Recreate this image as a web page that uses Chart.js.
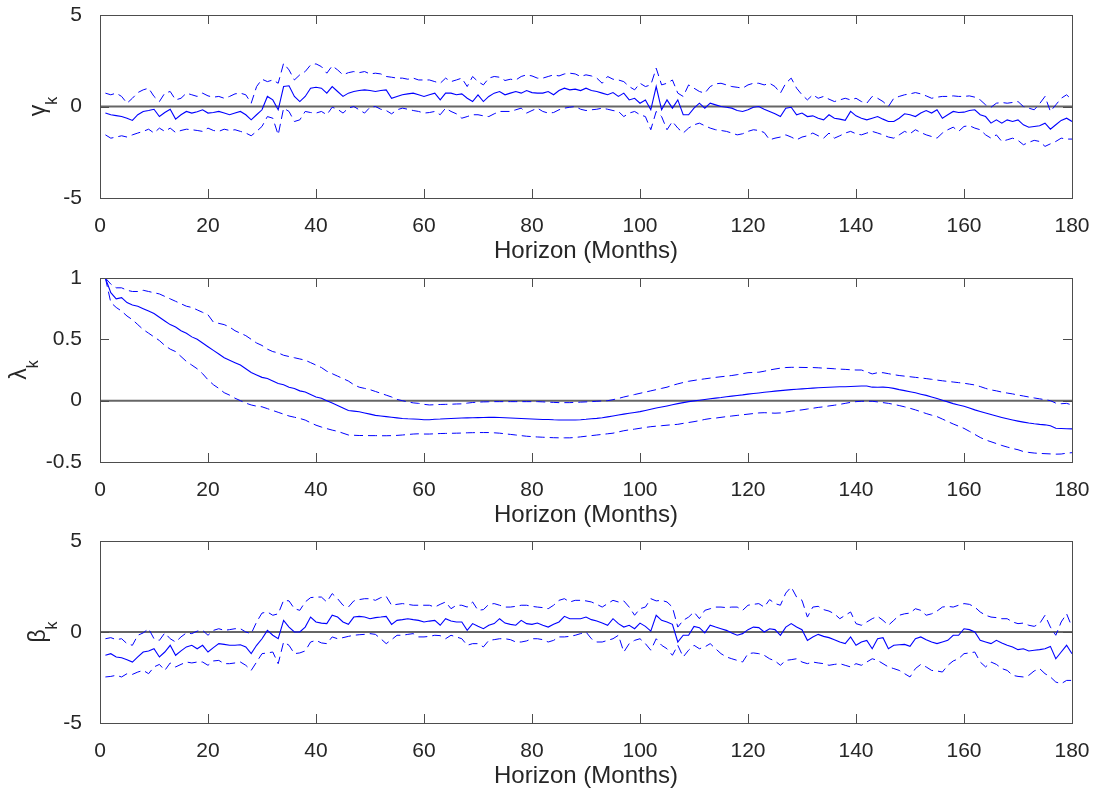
<!DOCTYPE html>
<html>
<head>
<meta charset="utf-8">
<title>Horizon coefficients</title>
<script src="https://cdn.jsdelivr.net/npm/chart.js@4.4.1/dist/chart.umd.min.js"></script>
<style>
  html, body { margin: 0; padding: 0; background: #ffffff; }
  #wrap { position: relative; width: 1099px; height: 798px; overflow: hidden; }
  #wrap canvas { position: absolute; left: 0; }
</style>
</head>
<body>
<div id="wrap">
  <canvas id="gammaChart" width="1099" height="281" style="top:-15px"></canvas>
  <canvas id="lambdaChart" width="1099" height="282" style="top:248px"></canvas>
  <canvas id="betaChart" width="1099" height="280" style="top:511px"></canvas>
</div>
<script>
// --- DATA (horizons 1..180 months) ---
const horizonCount = 180;
const horizons = Array.from({ length: horizonCount }, (_, i) => i + 1);

const gammaMid = [
  -0.36, -0.45, -0.5, -0.55, -0.64, -0.76, -0.45, -0.27, -0.22, -0.15,
  -0.55, -0.33, -0.15, -0.69, -0.45, -0.27, -0.36, -0.29, -0.18, -0.36,
  -0.33, -0.27, -0.36, -0.45, -0.36, -0.27, -0.45, -0.73, -0.45, -0.18,
  0.55, 0.36, -0.18, 1.09, 1.13, 0.55, 0.27, 0.55, 1.0, 1.05,
  1.0, 0.73, 1.09, 0.82, 0.55, 0.73, 0.82, 0.87, 0.91, 0.87,
  0.82, 0.87, 0.91, 0.45, 0.55, 0.64, 0.69, 0.73, 0.64, 0.55,
  0.64, 0.73, 0.36, 0.73, 0.73, 0.64, 0.69, 0.45, 0.27, 0.64,
  0.27, 0.55, 0.73, 0.82, 0.64, 0.73, 0.82, 0.73, 0.87, 0.76,
  0.73, 0.73, 0.82, 0.64, 0.87, 1.0, 0.91, 0.95, 0.87, 1.0,
  0.87, 0.82, 0.73, 0.64, 0.76, 0.55, 0.73, 0.36, 0.45, 0.18,
  0.36, -0.18, 1.09, -0.18, 0.36, -0.09, 0.36, -0.45, -0.45, -0.09,
  0.18, -0.09, 0.18, 0.09, 0, -0.04, -0.09, -0.22, -0.27, -0.18,
  -0.04, 0, -0.15, -0.27, -0.4, -0.55, -0.09, -0.04, -0.45, -0.36,
  -0.55, -0.51, -0.64, -0.73, -0.45, -0.64, -0.69, -0.76, -0.27, -0.51,
  -0.64, -0.73, -0.64, -0.55, -0.69, -0.82, -0.82, -0.64, -0.4, -0.45,
  -0.55, -0.36, -0.22, -0.36, -0.18, -0.64, -0.45, -0.27, -0.33, -0.31,
  -0.22, -0.18, -0.45, -0.55, -0.91, -0.73, -0.91, -0.73, -0.82, -0.73,
  -1.0, -1.13, -1.09, -1.05, -0.91, -1.24, -1.0, -0.76, -0.64, -0.82
];
const gammaUpper = [
  0.73, 0.64, 0.73, 0.55, 0.18, 0.45, 0.76, 0.91, 1.0, 0.55,
  0.27, 0.73, 0.82, 0.36, 0.45, 0.73, 0.64, 0.55, 0.73, 0.58,
  0.51, 0.55, 0.45, 0.55, 0.69, 0.73, 0.64, 0.18, 1.09, 1.49,
  1.36, 1.45, 1.27, 2.36, 2.0, 1.45, 1.73, 1.91, 2.27, 2.33,
  2.18, 1.82, 2.22, 2.0, 1.73, 1.85, 1.91, 1.85, 1.91, 1.78,
  1.82, 1.78, 1.64, 1.6, 1.55, 1.55, 1.49, 1.55, 1.45, 1.45,
  1.45, 1.36, 1.27, 1.55, 1.36, 1.45, 1.55, 1.09, 1.64, 1.36,
  1.18, 1.55, 1.64, 1.6, 1.42, 1.49, 1.45, 1.64, 1.73, 1.67,
  1.55, 1.55, 1.64, 1.73, 1.67, 1.78, 1.82, 1.78, 1.64, 1.73,
  1.67, 1.55, 1.27, 1.64, 1.49, 1.45, 1.36, 1.09, 0.91, 1.27,
  1.09, 1.18, 2.09, 1.18, 1.27, 1.45, 0.73, 0.55, 1.18, 1.0,
  0.82, 0.73, 1.09, 1.24, 1.27, 1.18, 1.09, 1.05, 1.0, 1.18,
  1.27, 1.27, 1.18, 1.27, 1.09, 0.73, 1.27, 1.55, 1.0, 0.64,
  0.36, 0.64, 0.45, 0.55, 0.4, 0.27, 0.36, 0.45, 0.36, 0.45,
  0.27, 0.18, 0.55, 0.45, 0.27, 0, 0.45, 0.55, 0.64, 0.69,
  0.76, 0.69, 0.58, 0.45, 0.51, 0.55, 0.55, 0.58, 0.55, 0.55,
  0.58, 0.51, 0.36, 0.09, -0.04, 0.18, 0.22, 0.18, 0.22, 0.27,
  0, -0.09, -0.18, 0.15, 0.55, -0.27, 0.09, 0.45, 0.64, 0.36
];
const gammaLower = [
  -1.55, -1.73, -1.67, -1.6, -1.67, -1.55, -1.45, -1.36, -1.24, -1.45,
  -1.18, -1.36, -1.18, -1.42, -1.31, -1.24, -1.27, -1.31, -1.36, -1.18,
  -1.31, -1.36, -1.24, -1.31, -1.27, -1.36, -1.45, -1.6, -1.36, -1.09,
  -0.55, -0.64, -1.55, -0.09, -0.27, -0.82, -0.73, -0.27, -0.33, -0.36,
  -0.27, -0.45, -0.04, -0.15, -0.36, -0.09, 0, -0.18, -0.36, -0.04,
  0, -0.15, -0.22, -0.4, -0.18, -0.09, -0.15, -0.22, -0.27, -0.36,
  -0.33, -0.27, -0.45, -0.09, -0.27, -0.4, -0.64, -0.55, -0.45, -0.45,
  -0.51, -0.55, -0.4, -0.27, -0.27, -0.27, -0.18, -0.09, -0.36, -0.22,
  -0.09, -0.27, -0.36, -0.33, -0.18, -0.09, -0.04, 0, -0.15, -0.22,
  -0.18, -0.15, -0.09, -0.15, -0.22, -0.27, -0.55, -0.36, -0.27, -0.45,
  -0.55, -1.27, -0.27, -0.55, -1.27, -0.82, -1.18, -1.45, -1.18, -1.0,
  -0.91, -1.05, -1.18, -1.27, -1.31, -1.36, -1.45, -1.55, -1.49, -1.36,
  -1.27, -1.31, -1.42, -1.82, -1.73, -1.67, -1.55, -1.67, -1.82, -1.67,
  -1.6, -1.45, -1.6, -1.73, -1.45, -1.73, -1.6, -1.45, -1.36, -1.49,
  -1.55, -1.45, -1.36, -1.45, -1.55, -1.67, -1.73, -1.55, -1.36, -1.49,
  -1.27, -1.42, -1.55, -1.64, -1.73, -1.45, -1.27, -1.13, -1.36, -1.09,
  -1.05, -1.18, -1.27, -1.55, -1.73, -1.55, -1.91, -1.82, -1.73, -1.85,
  -2.09, -1.96, -1.85, -1.91, -2.18, -2.04, -1.91, -1.73, -1.78, -1.78
];

const lambdaMid = [
  1.0, 0.88, 0.83, 0.84, 0.8, 0.78, 0.77, 0.75, 0.73, 0.71,
  0.68, 0.65, 0.62, 0.6, 0.57, 0.55, 0.52, 0.5, 0.47, 0.44,
  0.41, 0.38, 0.35, 0.33, 0.31, 0.29, 0.26, 0.23, 0.21, 0.19,
  0.18, 0.16, 0.14, 0.13, 0.11, 0.1, 0.08, 0.07, 0.05, 0.03,
  0.02, 0.0, -0.02, -0.04, -0.06, -0.08, -0.085, -0.09, -0.1, -0.11,
  -0.12, -0.125, -0.13, -0.135, -0.14, -0.145, -0.148, -0.15, -0.152, -0.155,
  -0.155, -0.152, -0.15, -0.147, -0.145, -0.143, -0.141, -0.14, -0.139, -0.138,
  -0.137, -0.136, -0.136, -0.137, -0.139, -0.141, -0.143, -0.145, -0.147, -0.149,
  -0.151, -0.153, -0.154, -0.156, -0.157, -0.158, -0.158, -0.157, -0.155, -0.152,
  -0.148, -0.144, -0.139, -0.132, -0.125, -0.117, -0.11, -0.103, -0.096, -0.089,
  -0.08, -0.07, -0.06, -0.052, -0.043, -0.033, -0.024, -0.016, -0.008, -0.002,
  0.004, 0.01, 0.016, 0.021, 0.026, 0.032, 0.037, 0.042, 0.047, 0.053,
  0.058, 0.063, 0.068, 0.073, 0.078, 0.082, 0.086, 0.09, 0.093, 0.096,
  0.099, 0.102, 0.105, 0.107, 0.109, 0.111, 0.113, 0.114, 0.116, 0.118,
  0.119, 0.12, 0.11, 0.109, 0.11, 0.107, 0.1, 0.09, 0.082, 0.073,
  0.064, 0.053, 0.043, 0.03, 0.018, 0.004, -0.01, -0.024, -0.035, -0.045,
  -0.06, -0.075, -0.088, -0.1, -0.113, -0.125, -0.137, -0.148, -0.158, -0.167,
  -0.175, -0.182, -0.188, -0.193, -0.197, -0.205, -0.225, -0.227, -0.229, -0.23
];
const lambdaUpper = [
  1.0, 0.95, 0.92, 0.92, 0.9, 0.89, 0.89, 0.9, 0.89, 0.88,
  0.87, 0.85, 0.83, 0.81, 0.79, 0.77, 0.76, 0.74, 0.72, 0.7,
  0.64, 0.63, 0.62, 0.6, 0.57, 0.55, 0.53, 0.5, 0.47, 0.45,
  0.42, 0.4, 0.39, 0.37, 0.36, 0.35, 0.34, 0.33, 0.31, 0.29,
  0.27, 0.24, 0.22, 0.2, 0.18, 0.16, 0.13, 0.11, 0.1, 0.09,
  0.075, 0.06, 0.045, 0.03, 0.01, 0.0, -0.01, -0.018, -0.022, -0.03,
  -0.035, -0.033, -0.031, -0.03, -0.029, -0.027, -0.026, -0.02, -0.015, -0.012,
  -0.01, -0.009, -0.008, -0.008, -0.008, -0.008, -0.008, -0.008, -0.008, -0.008,
  -0.008, -0.01, -0.012, -0.014, -0.016, -0.016, -0.016, -0.014, -0.012, -0.01,
  -0.008, -0.005, -0.002, 0.0, 0.008, 0.018, 0.03, 0.04, 0.05, 0.06,
  0.07, 0.08, 0.09, 0.1, 0.11, 0.125, 0.137, 0.148, 0.158, 0.165,
  0.172, 0.178, 0.184, 0.19, 0.195, 0.2, 0.205, 0.212, 0.22, 0.228,
  0.23, 0.232, 0.24, 0.25, 0.258, 0.265, 0.27, 0.272, 0.272, 0.271,
  0.27, 0.27, 0.268, 0.265, 0.263, 0.26, 0.257, 0.255, 0.252, 0.25,
  0.25, 0.235, 0.218, 0.228, 0.228, 0.22, 0.212, 0.205, 0.2, 0.195,
  0.19, 0.185, 0.18, 0.174, 0.168, 0.162, 0.157, 0.152, 0.147, 0.142,
  0.135, 0.128, 0.115, 0.1, 0.088, 0.08, 0.07, 0.062, 0.055, 0.046,
  0.038, 0.03, 0.022, 0.015, 0.008, 0.0, -0.02, -0.025, -0.022, -0.035
];
const lambdaLower = [
  1.0, 0.8, 0.76, 0.73, 0.69, 0.66, 0.62, 0.58, 0.55, 0.52,
  0.49, 0.45, 0.42, 0.4, 0.36, 0.32, 0.29, 0.26, 0.22, 0.17,
  0.13, 0.1, 0.065, 0.045, 0.02, 0.0, -0.02, -0.035, -0.045, -0.05,
  -0.065, -0.08, -0.095, -0.11, -0.125, -0.135, -0.145, -0.158, -0.18, -0.2,
  -0.215, -0.228, -0.24, -0.25, -0.265, -0.28, -0.282, -0.284, -0.284, -0.285,
  -0.285, -0.286, -0.286, -0.285, -0.283, -0.28, -0.276, -0.272, -0.27, -0.272,
  -0.272, -0.27, -0.268, -0.267, -0.266, -0.265, -0.264, -0.262, -0.261, -0.26,
  -0.26, -0.26, -0.262, -0.265, -0.27, -0.275, -0.28, -0.285, -0.29, -0.293,
  -0.296, -0.298, -0.3, -0.302, -0.303, -0.303, -0.303, -0.3, -0.295, -0.29,
  -0.285, -0.28, -0.275, -0.27, -0.265, -0.255, -0.245, -0.238, -0.232, -0.225,
  -0.218, -0.212, -0.208, -0.204, -0.2, -0.196, -0.193, -0.185, -0.178, -0.171,
  -0.163, -0.153, -0.146, -0.142, -0.136, -0.13, -0.125, -0.12, -0.115, -0.11,
  -0.105, -0.1, -0.098, -0.1, -0.102, -0.1, -0.093, -0.086, -0.08, -0.075,
  -0.068, -0.062, -0.055, -0.05, -0.043, -0.037, -0.03, -0.022, -0.014, -0.008,
  -0.005, -0.004, -0.005, -0.01, -0.016, -0.022, -0.03, -0.04, -0.05, -0.062,
  -0.075, -0.09, -0.105, -0.118, -0.13, -0.15, -0.17, -0.19, -0.208, -0.226,
  -0.25, -0.275, -0.3, -0.32, -0.335, -0.35, -0.365, -0.378, -0.39, -0.4,
  -0.415, -0.422, -0.427, -0.43, -0.432, -0.434, -0.436, -0.435, -0.428, -0.424
];

const betaMid = [
  -1.28, -1.19, -1.37, -1.41, -1.52, -1.65, -1.37, -1.1, -1.04, -0.92,
  -1.37, -1.1, -0.73, -1.28, -1.04, -0.82, -0.73, -0.92, -0.73, -1.1,
  -0.86, -0.64, -0.68, -0.73, -0.73, -0.7, -0.82, -1.19, -0.73, -0.37,
  0.09, -0.18, -0.37, 0.64, 0.27, 0, 0, 0.27, 0.82, 0.55,
  0.49, 0.46, 0.92, 0.82, 0.55, 0.42, 0.82, 0.86, 0.82, 0.73,
  0.79, 0.82, 0.86, 0.42, 0.64, 0.68, 0.73, 0.68, 0.64, 0.55,
  0.6, 0.64, 0.37, 0.73, 0.6, 0.55, 0.55, 0.09, 0.46, 0.31,
  0.18, 0.37, 0.46, 0.73, 0.49, 0.42, 0.37, 0.64, 0.46, 0.42,
  0.49, 0.37, 0.27, 0.42, 0.55, 0.86, 0.73, 0.73, 0.73, 0.82,
  0.68, 0.6, 0.49, 0.37, 0.73, 0.46, 0.27, 0.37, 0.18, 0.49,
  0.31, 0.05, 0.92, 0.64, 0.55, 0.42, -0.55, -0.18, -0.18, 0.31,
  0.24, -0.05, 0.37, 0.27, 0.18, 0.09, -0.05, -0.18, -0.09, 0.13,
  0.27, 0.24, 0, 0.18, 0.13, -0.18, 0.27, 0.46, 0.27, 0.13,
  -0.46, -0.27, -0.13, -0.24, -0.31, -0.42, -0.55, -0.64, -0.27, -0.73,
  -0.55, -0.46, -0.92, -0.37, -0.31, -0.92, -0.73, -0.7, -0.68, -0.79,
  -0.37, -0.27, -0.42, -0.55, -0.64, -0.55, -0.46, -0.18, -0.18, 0.18,
  0.13, 0, -0.46, -0.55, -0.64, -0.46, -0.6, -0.73, -0.82, -0.97,
  -0.92, -1.04, -1.0, -0.97, -0.92, -0.79, -1.47, -1.1, -0.73, -1.19
];
const betaUpper = [
  -0.37, -0.31, -0.42, -0.37, -0.64, -0.73, -0.18, -0.05, 0.18, -0.37,
  -0.46, -0.05, -0.37, -0.55, -0.27, -0.05, -0.09, 0.05, 0.09, -0.18,
  0.09, 0.18, 0.09, 0.13, 0.18, 0.18, 0, -0.09, 0.55, 1.04,
  1.1, 0.92, 1.0, 1.74, 1.71, 1.28, 1.19, 1.65, 1.89, 1.92,
  1.92, 1.65, 2.11, 1.83, 1.47, 1.37, 1.71, 1.78, 1.83, 1.83,
  1.74, 1.89, 1.96, 1.47, 1.52, 1.56, 1.52, 1.47, 1.47, 1.47,
  1.47, 1.37, 1.52, 1.65, 1.28, 1.47, 1.47, 1.37, 1.65, 1.19,
  1.23, 1.52, 1.56, 1.47, 1.37, 1.37, 1.41, 1.47, 1.47, 1.41,
  1.37, 1.34, 1.28, 1.47, 1.74, 1.83, 1.65, 1.74, 1.74, 1.71,
  1.65, 1.52, 1.37, 1.56, 1.74, 1.65, 1.71, 1.37, 0.92, 1.28,
  1.37, 1.83, 1.71, 1.74, 1.65, 1.37, 0.27, 0.64, 0.82, 1.1,
  0.73, 1.19, 1.28, 1.37, 1.37, 1.34, 1.37, 1.37, 1.19, 1.47,
  1.52, 1.56, 1.37, 1.78, 1.56, 1.47, 2.14, 2.47, 1.92, 1.74,
  0.82, 1.37, 1.41, 1.23, 1.15, 1.0, 0.73, 0.92, 1.1, 0.46,
  0.37, 0.55, 0.73, 0.86, 0.64, 0.37, 0.64, 0.92, 1.0, 1.04,
  1.28, 1.19, 0.92, 1.0, 1.15, 1.37, 1.41, 1.37, 1.47, 1.56,
  1.52, 1.37, 1.1, 0.92, 0.82, 0.79, 0.73, 0.73, 0.55, 0.46,
  0.49, 0.37, 0.31, 0.46, 0.92, 0.27, -0.18, 0.55, 1.0, 0.27
];
const betaLower = [
  -2.47, -2.44, -2.38, -2.47, -2.29, -2.33, -2.2, -2.11, -2.29, -1.92,
  -1.78, -2.11, -1.7, -1.92, -1.78, -1.65, -1.7, -1.65, -1.65, -1.83,
  -1.59, -1.56, -1.74, -1.74, -1.7, -1.65, -1.83, -2.11, -1.65, -1.19,
  -1.15, -1.1, -1.74, -0.55, -0.73, -1.19, -1.15, -1.04, -0.55, -0.46,
  -0.6, -0.64, -0.27, -0.37, -0.31, -0.24, -0.18, -0.15, -0.13, -0.09,
  -0.13, -0.37, -0.64, -0.42, -0.18, -0.18, -0.13, -0.09, -0.27, -0.27,
  -0.24, -0.18, -0.2, -0.37, -0.18, -0.27, -0.37, -0.73, -0.64, -0.64,
  -0.82, -0.46, -0.42, -0.37, -0.37, -0.42, -0.55, -0.55, -0.49, -0.37,
  -0.37, -0.42, -0.55, -0.46, -0.27, -0.27, -0.24, -0.18, -0.09, 0,
  -0.37, -0.55, -0.55, -0.46, -0.37, -0.18, -1.1, -0.64, -0.46, -0.37,
  -0.64, -1.0, -0.37, -0.73, -0.92, -1.28, -0.73, -1.37, -1.0, -0.73,
  -0.92, -0.82, -0.64, -0.92, -1.19, -1.37, -1.47, -1.56, -1.65, -1.19,
  -1.15, -1.19, -1.28, -1.47, -1.59, -1.83, -1.56, -1.52, -1.47, -1.65,
  -1.74, -1.65, -1.7, -1.74, -1.83, -1.78, -1.74, -1.83, -1.92, -1.74,
  -1.83, -1.65, -1.47, -1.56, -1.74, -1.92, -2.01, -2.11, -2.29, -2.47,
  -2.01, -1.78, -1.92, -2.11, -2.14, -2.2, -1.83, -1.59, -1.47, -1.19,
  -1.15, -1.1, -1.65, -1.92, -1.65, -1.78, -2.01, -2.11, -2.38, -2.44,
  -2.47, -2.38, -2.14, -2.01, -2.29, -2.47, -2.75, -2.84, -2.66, -2.66
];

const xTitle = 'Horizon (Months)';
const zeroLevel = 0;

// --- STYLE ---
const FONT = '"Liberation Sans", Arial, Helvetica, sans-serif';
const TEXT = '#262626';
const FRAME = '#4d4d4d';
const BLUE = '#0000ff';

// MATLAB-like frame: box, inward ticks on all four sides, zero line, ylabel with subscript
const matlabFrame = {
  id: 'matlabFrame',
  beforeDatasetsDraw(chart) {
    const { ctx, chartArea: a, scales: { y } } = chart;
    const py = y.getPixelForValue(zeroLevel);
    ctx.save();
    ctx.strokeStyle = '#666666';
    ctx.lineWidth = 2;
    ctx.beginPath();
    ctx.moveTo(a.left, py);
    ctx.lineTo(a.right, py);
    ctx.stroke();
    ctx.restore();
  },
  afterDraw(chart, args, opts) {
    const { ctx, chartArea: a, scales: { x, y } } = chart;
    const len = 9;
    ctx.save();
    ctx.strokeStyle = FRAME;
    ctx.lineWidth = 1;
    ctx.beginPath();
    x.ticks.forEach(t => {
      const px = Math.round(x.getPixelForValue(t.value)) + 0.5;
      ctx.moveTo(px, a.bottom); ctx.lineTo(px, a.bottom - len);
      ctx.moveTo(px, a.top); ctx.lineTo(px, a.top + len);
    });
    y.ticks.forEach(t => {
      const py = Math.round(y.getPixelForValue(t.value)) + 0.5;
      ctx.moveTo(a.left, py); ctx.lineTo(a.left + len, py);
      ctx.moveTo(a.right, py); ctx.lineTo(a.right - len, py);
    });
    ctx.stroke();
    ctx.strokeRect(Math.round(a.left) + 0.5, Math.round(a.top) + 0.5,
      Math.round(a.right - a.left), Math.round(a.bottom - a.top));

    // y label: symbol with subscript k, rotated
    const mainFont = '23px ' + FONT;
    const subFont = '16px ' + FONT;
    ctx.font = mainFont;
    const w1 = ctx.measureText(opts.symbol).width;
    ctx.font = subFont;
    const w2 = ctx.measureText(opts.sub).width;
    ctx.translate(opts.baseX, (a.top + a.bottom) / 2);
    ctx.rotate(-Math.PI / 2);
    ctx.fillStyle = TEXT;
    ctx.textBaseline = 'alphabetic';
    ctx.textAlign = 'left';
    const start = -(w1 + w2) / 2;
    ctx.font = mainFont;
    ctx.fillText(opts.symbol, start, 0);
    ctx.font = subFont;
    ctx.fillText(opts.sub, start + w1, opts.drop);
    ctx.restore();
  }
};

function toPoints(values) {
  return values.map((v, i) => ({ x: horizons[i], y: v }));
}

function makePanel(id, cfg) {
  const ctx = document.getElementById(id).getContext('2d');
  const band = { borderColor: BLUE, borderWidth: 1, borderDash: [9, 5], pointRadius: 0, tension: 0, fill: false };
  return new Chart(ctx, {
    type: 'line',
    data: {
      datasets: [
        { label: 'estimate', data: toPoints(cfg.mid), borderColor: BLUE, borderWidth: 1.1, pointRadius: 0, tension: 0, fill: false },
        Object.assign({ label: 'upper', data: toPoints(cfg.upper) }, band),
        Object.assign({ label: 'lower', data: toPoints(cfg.lower) }, band)
      ]
    },
    options: {
      responsive: false,
      animation: false,
      events: [],
      layout: { padding: { top: 30, right: 27, bottom: 0, left: 0 } },
      plugins: {
        legend: { display: false },
        tooltip: { enabled: false },
        matlabFrame: { symbol: cfg.symbol, sub: 'k', baseX: cfg.labelX, drop: 12 }
      },
      scales: {
        x: {
          type: 'linear',
          min: 0,
          max: 180,
          grid: { display: false },
          border: { display: false },
          ticks: { stepSize: 20, padding: 8, color: TEXT, font: { family: FONT, size: 21 } },
          title: { display: true, text: xTitle, color: TEXT, font: { family: FONT, size: 24 }, padding: 0 },
          afterFit: (scale) => { scale.height = 68; }
        },
        y: {
          min: cfg.yMin,
          max: cfg.yMax,
          grid: { display: false },
          border: { display: false },
          ticks: {
            stepSize: cfg.step, padding: 10, color: TEXT, font: { family: FONT, size: 21 },
            callback: (v) => String(v)
          },
          afterFit: (scale) => { scale.width = 100; }
        }
      }
    },
    plugins: [matlabFrame]
  });
}

makePanel('gammaChart', { mid: gammaMid, upper: gammaUpper, lower: gammaLower, yMin: -5, yMax: 5, step: 5, symbol: 'γ', labelX: 45 });
makePanel('lambdaChart', { mid: lambdaMid, upper: lambdaUpper, lower: lambdaLower, yMin: -0.5, yMax: 1, step: 0.5, symbol: 'λ', labelX: 26 });
makePanel('betaChart', { mid: betaMid, upper: betaUpper, lower: betaLower, yMin: -5, yMax: 5, step: 5, symbol: 'β', labelX: 45 });
</script>
</body>
</html>
